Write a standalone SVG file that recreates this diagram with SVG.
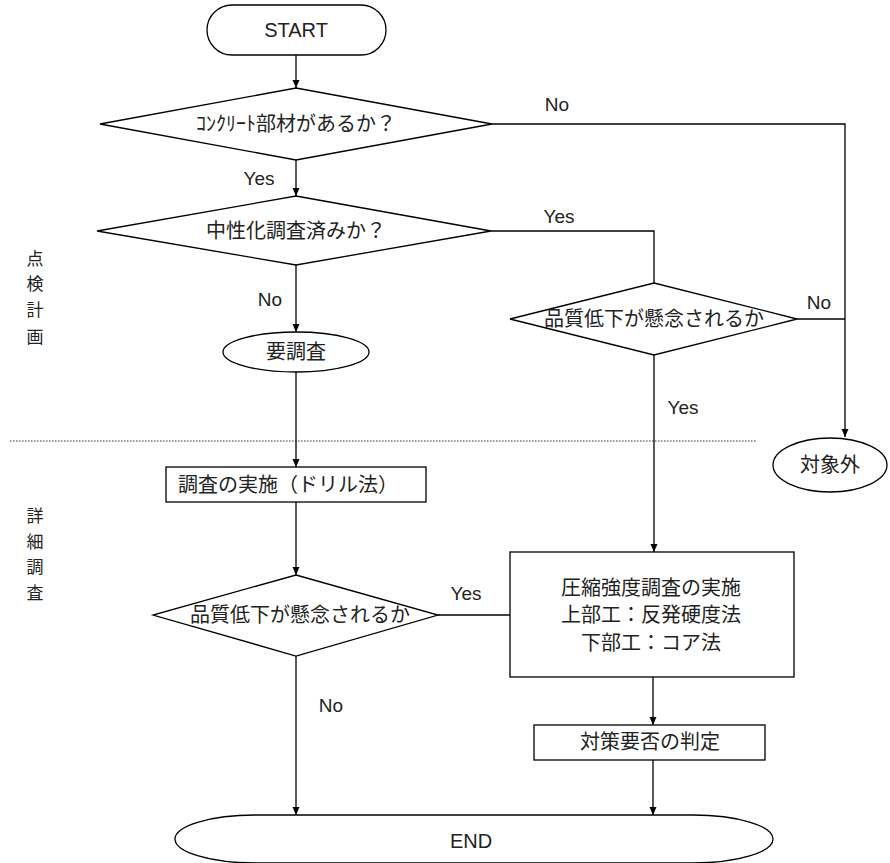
<svg xmlns="http://www.w3.org/2000/svg" width="890" height="863" viewBox="0 0 890 863">
<style>
.s{fill:#fff;stroke:#000;stroke-width:1.3}
.c{fill:none;stroke:#000;stroke-width:1.3}
.t{font-family:"Noto Sans CJK JP","Liberation Sans",sans-serif;font-size:20px;fill:#222;text-anchor:middle}
.l{font-family:"Liberation Sans","Noto Sans CJK JP",sans-serif;font-size:19px;fill:#222;text-anchor:middle}
.v{font-family:"Noto Sans CJK JP",sans-serif;font-size:17px;fill:#222;text-anchor:middle}
</style>
<defs>
<marker id="a" markerWidth="10" markerHeight="10" refX="9" refY="5" orient="auto" markerUnits="userSpaceOnUse">
<path d="M1,1.5 L9,5 L1,8.5 Z" fill="#000"/>
</marker>
</defs>
<rect width="890" height="863" fill="#fff"/>
<g id="sections">
<line x1="10" y1="441" x2="757" y2="441" stroke="#333" stroke-width="1" stroke-dasharray="1.5 1.5"/>
<text class="v" x="35" y="265">点</text>
<text class="v" x="35" y="290">検</text>
<text class="v" x="35" y="316">計</text>
<text class="v" x="35" y="343">画</text>
<text class="v" x="35" y="522">詳</text>
<text class="v" x="35" y="548">細</text>
<text class="v" x="35" y="573">調</text>
<text class="v" x="35" y="599">査</text>
</g>
<g id="connectors">
<line class="c" x1="296" y1="55" x2="296" y2="88" marker-end="url(#a)"/>
<line class="c" x1="296" y1="160" x2="296" y2="196" marker-end="url(#a)"/>
<polyline class="c" points="492,124 845,124 845,437" marker-end="url(#a)"/>
<polyline class="c" points="491,231 654,231 654,283"/>
<line class="c" x1="797" y1="319" x2="845" y2="319"/>
<line class="c" x1="654" y1="355" x2="654" y2="552" marker-end="url(#a)"/>
<line class="c" x1="296" y1="265" x2="296" y2="332" marker-end="url(#a)"/>
<line class="c" x1="296" y1="372" x2="296" y2="467" marker-end="url(#a)"/>
<line class="c" x1="296" y1="502" x2="296" y2="575" marker-end="url(#a)"/>
<line class="c" x1="438" y1="615" x2="510" y2="615"/>
<line class="c" x1="653" y1="677" x2="653" y2="725" marker-end="url(#a)"/>
<line class="c" x1="653" y1="760" x2="653" y2="815" marker-end="url(#a)"/>
<line class="c" x1="296" y1="656" x2="296" y2="815" marker-end="url(#a)"/>
<text class="l" x="557" y="111">No</text>
<text class="l" x="259" y="185">Yes</text>
<text class="l" x="559" y="223">Yes</text>
<text class="l" x="819" y="309">No</text>
<text class="l" x="270" y="306">No</text>
<text class="l" x="683" y="414">Yes</text>
<text class="l" x="466" y="600">Yes</text>
<text class="l" x="331" y="712">No</text>
</g>
<g id="start">
<rect class="s" x="207" y="5" width="179" height="50" rx="25" ry="25"/>
<text class="l" x="296" y="37" style="font-size:20px">START</text>
</g>
<g id="d1">
<polygon class="s" points="296,88 492,124 296,160 100,124"/>
<text class="t" x="296" y="131">ｺﾝｸﾘｰﾄ部材があるか？</text>
</g>
<g id="d2">
<polygon class="s" points="296,196 491,231 296,265 97,231"/>
<text class="t" x="296" y="238">中性化調査済みか？</text>
</g>
<g id="d3">
<polygon class="s" points="654,283 797,319 654,355 510,319"/>
<text class="t" x="654" y="326">品質低下が懸念されるか</text>
</g>
<g id="youchousa">
<ellipse class="s" cx="296" cy="352" rx="73" ry="20"/>
<text class="t" x="296" y="359">要調査</text>
</g>
<g id="taishougai">
<ellipse class="s" cx="830" cy="465" rx="57" ry="27"/>
<text class="t" x="830" y="472">対象外</text>
</g>
<g id="drill">
<rect class="s" x="166" y="467" width="260" height="35"/>
<text class="t" x="288" y="492">調査の実施（ドリル法）</text>
</g>
<g id="d4">
<polygon class="s" points="296,575 438,615 296,656 153,615"/>
<text class="t" x="300" y="622">品質低下が懸念されるか</text>
</g>
<g id="strength">
<rect class="s" x="510" y="552" width="284" height="125"/>
<text class="t" x="651" y="595">圧縮強度調査の実施</text>
<text class="t" x="651" y="622">上部工：反発硬度法</text>
<text class="t" x="651" y="650">下部工：コア法</text>
</g>
<g id="judge">
<rect class="s" x="534" y="725" width="231" height="35"/>
<text class="t" x="650" y="749">対策要否の判定</text>
</g>
<g id="end">
<rect class="s" x="175" y="815" width="598" height="48" rx="80" ry="24"/>
<text class="l" x="471" y="848" style="font-size:20px">END</text>
</g>
</svg>
